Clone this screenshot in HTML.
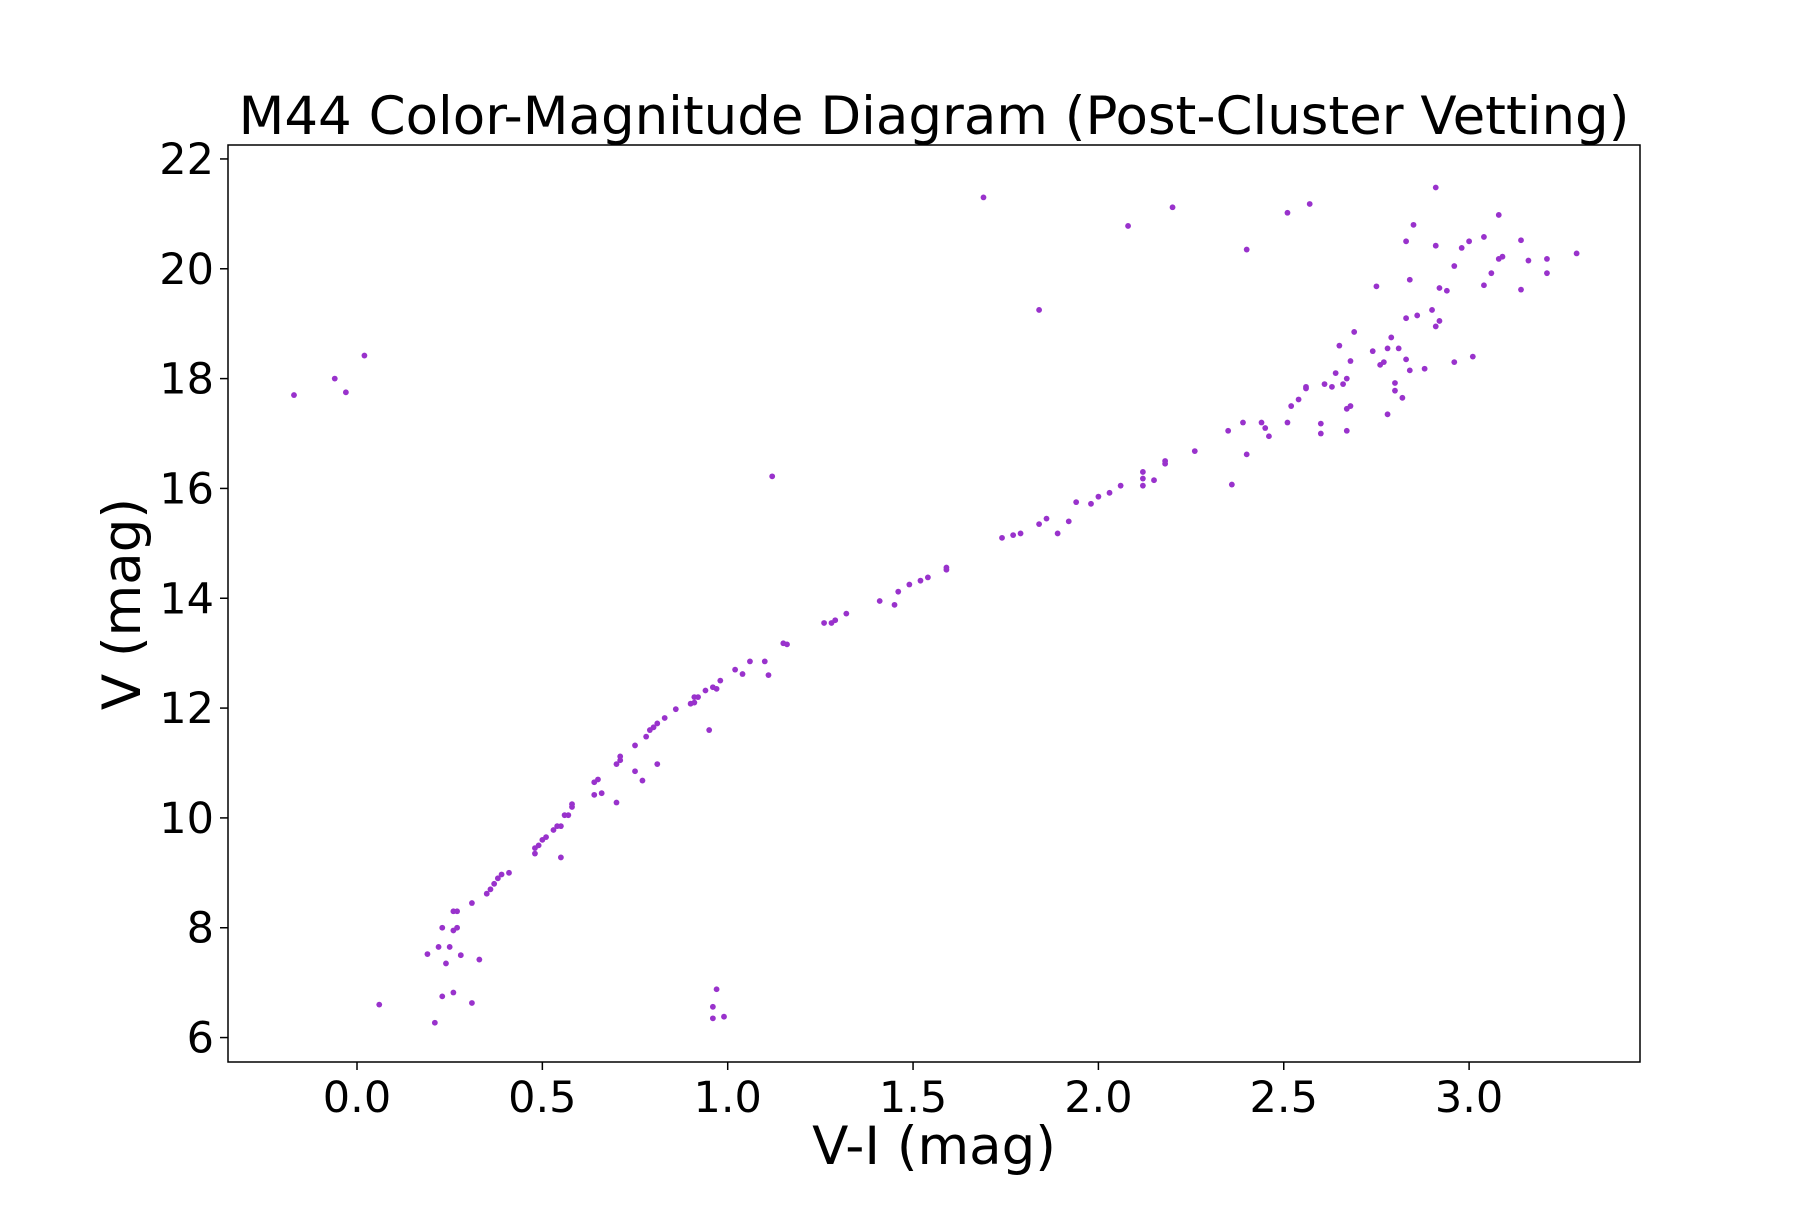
<!DOCTYPE html>
<html><head><meta charset="utf-8"><style>
body{margin:0;background:#fff;}
svg text{font-family:"DejaVu Sans","Liberation Sans",sans-serif;fill:#000;}
</style></head><body>
<svg id="chart" width="1800" height="1200" xmlns="http://www.w3.org/2000/svg">
<rect width="1800" height="1200" fill="#fff"/>
<text x="934" y="134" font-size="53" text-anchor="middle">M44 Color-Magnitude Diagram (Post-Cluster Vetting)</text>
<g id="ticks"></g>
<g id="pts"></g>
<rect x="228" y="145" width="1412" height="917" fill="none" stroke="#000" stroke-width="1.5"/>
<text x="934" y="1164" font-size="53" text-anchor="middle">V-I (mag)</text>
<text transform="translate(140,604) rotate(-90)" font-size="53" text-anchor="middle">V (mag)</text>
</svg>
<script>
const colorVI=[-0.17,-0.06,-0.03,0.02,0.06,0.21,0.19,0.22,0.23,0.23,0.24,0.25,0.26,0.26,0.26,0.27,0.27,0.28,0.31,0.31,0.33,0.35,0.36,0.37,0.38,0.39,0.41,0.48,0.48,0.49,0.50,0.51,0.53,0.54,0.55,0.56,0.57,0.55,0.58,0.58,0.64,0.65,0.64,0.66,0.70,0.70,0.71,0.71,0.75,0.75,0.77,0.78,0.79,0.80,0.81,0.81,0.83,0.86,0.90,0.91,0.91,0.92,0.94,0.95,0.96,0.97,0.98,1.02,1.04,1.06,1.10,1.11,1.12,1.15,1.16,1.26,1.28,1.29,1.32,1.41,1.45,1.46,1.49,1.52,1.54,1.59,1.59,0.96,0.96,0.97,0.99,1.69,1.74,1.77,1.79,1.84,1.84,1.86,1.89,1.92,1.94,1.98,2.00,2.03,2.06,2.08,2.12,2.12,2.12,2.15,2.18,2.18,2.20,2.26,2.35,2.36,2.39,2.40,2.40,2.44,2.45,2.46,2.51,2.51,2.52,2.54,2.56,2.56,2.57,2.60,2.60,2.61,2.63,2.64,2.65,2.66,2.67,2.67,2.67,2.68,2.68,2.69,2.74,2.75,2.76,2.77,2.78,2.78,2.79,2.80,2.80,2.81,2.82,2.83,2.83,2.83,2.84,2.84,2.85,2.86,2.88,2.90,2.91,2.91,2.91,2.92,2.92,2.94,2.96,2.96,2.98,3.00,3.01,3.04,3.04,3.06,3.08,3.08,3.09,3.14,3.14,3.16,3.21,3.21,3.29];
const magV=[17.7,18.0,17.75,18.42,6.6,6.27,7.52,7.65,6.75,8.0,7.35,7.65,6.82,7.95,8.3,8.3,8.0,7.5,8.45,6.63,7.42,8.62,8.7,8.8,8.9,8.97,9.0,9.35,9.45,9.5,9.6,9.65,9.78,9.85,9.85,10.05,10.05,9.28,10.2,10.25,10.65,10.7,10.42,10.45,10.28,10.98,11.05,11.12,11.32,10.85,10.68,11.48,11.6,11.65,11.72,10.98,11.82,11.98,12.08,12.1,12.2,12.2,12.32,11.6,12.38,12.35,12.5,12.7,12.62,12.85,12.85,12.6,16.22,13.18,13.16,13.55,13.55,13.6,13.72,13.95,13.88,14.12,14.25,14.32,14.38,14.52,14.56,6.56,6.35,6.88,6.38,21.3,15.1,15.15,15.18,19.25,15.35,15.45,15.18,15.4,15.75,15.72,15.85,15.92,16.05,20.78,16.05,16.18,16.3,16.15,16.45,16.5,21.12,16.68,17.05,16.07,17.2,16.62,20.35,17.2,17.1,16.95,17.2,21.02,17.5,17.62,17.82,17.85,21.18,17.18,17.0,17.9,17.85,18.1,18.6,17.9,18.0,17.45,17.05,18.32,17.5,18.85,18.5,19.68,18.25,18.3,17.35,18.55,18.75,17.92,17.78,18.55,17.65,19.1,18.35,20.5,18.15,19.8,20.8,19.15,18.18,19.25,21.48,20.42,18.95,19.05,19.65,19.6,20.05,18.3,20.38,20.5,18.4,20.58,19.7,19.92,20.18,20.98,20.22,20.52,19.62,20.15,20.18,19.92,20.28];
const xTicks=[0.0,0.5,1.0,1.5,2.0,2.5,3.0];
const xTickLabels=["0.0","0.5","1.0","1.5","2.0","2.5","3.0"];
const yTicks=[6,8,10,12,14,16,18,20,22];
const yTickLabels=["6","8","10","12","14","16","18","20","22"];
const X0=228,X1=1640,Y0=1062,Y1=145,xmin=-0.348,xmax=3.461,ymin=5.555,ymax=22.254;
const sx=v=>X0+(v-xmin)/(xmax-xmin)*(X1-X0);
const sy=v=>Y0-(v-ymin)/(ymax-ymin)*(Y0-Y1);
const NS="http://www.w3.org/2000/svg";
const tg=document.getElementById('ticks'),pg=document.getElementById('pts');
function mk(tag,attrs,parent){const e=document.createElementNS(NS,tag);for(const k in attrs)e.setAttribute(k,attrs[k]);parent.appendChild(e);return e;}
xTicks.forEach((t,i)=>{
 const l=mk('line',{x1:sx(t),x2:sx(t),y1:Y0,y2:Y0+8,stroke:'#000','stroke-width':1.5},tg);
 
 
 const tx=mk('text',{x:sx(t),y:Y0+50,'font-size':43,'text-anchor':'middle'},tg);tx.textContent=xTickLabels[i];
 
 
});
yTicks.forEach((t,i)=>{
 const l=mk('line',{x1:X0-8,x2:X0,y1:sy(t),y2:sy(t),stroke:'#000','stroke-width':1.5},tg);
 
 
 const tx=mk('text',{x:X0-14,y:sy(t)+15,'font-size':43,'text-anchor':'end'},tg);tx.textContent=yTickLabels[i];
 
 
});
colorVI.forEach((c,i)=>{
 const p=mk('circle',{cx:sx(c),cy:sy(magV[i]),r:2.9,fill:'#9932cc'},pg);
 
 
});
</script>
</body></html>
